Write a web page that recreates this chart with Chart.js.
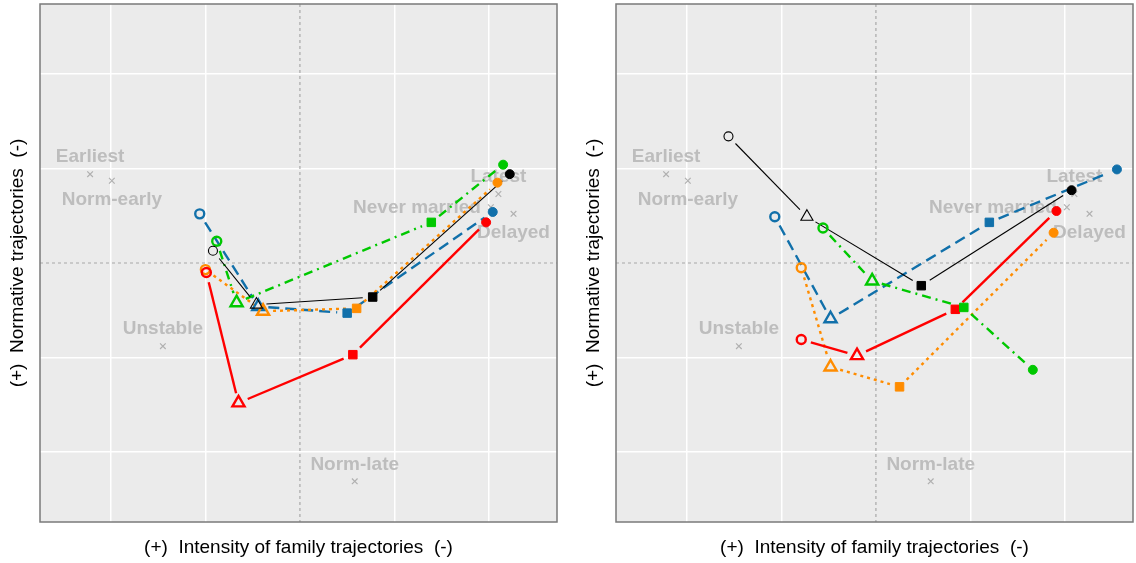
<!DOCTYPE html>
<html>
<head>
<meta charset="utf-8">
<script src="https://cdn.jsdelivr.net/npm/chart.js@4.4.1/dist/chart.umd.min.js"></script>
<style>
body { margin: 0; background: #fff; width: 1136px; height: 563px; overflow: hidden; }
canvas { position: absolute; top: 0; }
</style>
</head>
<body>
<canvas id="leftCanvas" width="576" height="563" style="left:0"></canvas>
<canvas id="rightCanvas" width="560" height="563" style="left:576px"></canvas>
<script>
// reference trajectories (grey crosses)
var refNames = ['Earliest', 'Norm-early', 'Unstable', 'Norm-late', 'Latest', 'Never married', 'Delayed'];
var refX = [-2.22, -1.99, -1.45, 0.58, 2.10, 2.02, 2.26];
var refY = [0.94, 0.87, -0.88, -2.31, 0.73, 0.59, 0.52];

// left panel series (open circle, open triangle, square, filled circle)
var leftBlackX = [-0.92, -0.46, 0.77, 2.22];
var leftBlackY = [0.13, -0.44, -0.36, 0.94];
var leftGreenX = [-0.88, -0.67, 1.39, 2.15];
var leftGreenY = [0.23, -0.42, 0.43, 1.04];
var leftRedX = [-0.99, -0.65, 0.56, 1.97];
var leftRedY = [-0.10, -1.48, -0.97, 0.43];
var leftOrangeX = [-1.00, -0.39, 0.60, 2.09];
var leftOrangeY = [-0.07, -0.51, -0.48, 0.85];
var leftBlueX = [-1.06, -0.44, 0.50, 2.04];
var leftBlueY = [0.52, -0.46, -0.53, 0.54];

// right panel series
var rightBlackX = [-1.56, -0.73, 0.48, 2.07];
var rightBlackY = [1.34, 0.49, -0.24, 0.77];
var rightGreenX = [-0.56, -0.04, 0.93, 1.66];
var rightGreenY = [0.37, -0.19, -0.47, -1.13];
var rightRedX = [-0.79, -0.20, 0.84, 1.91];
var rightRedY = [-0.81, -0.98, -0.49, 0.55];
var rightOrangeX = [-0.79, -0.48, 0.25, 1.88];
var rightOrangeY = [-0.05, -1.10, -1.31, 0.32];
var rightBlueX = [-1.07, -0.48, 1.20, 2.55];
var rightBlueY = [0.49, -0.59, 0.43, 0.99];

var xTitle = '(+)  Intensity of family trajectories  (-)';
var yTitle = '(+)  Normative trajectories  (-)';

// styles
var refPos = ['above', 'below', 'above', 'above', 'above', 'left', 'below'];
var styles = {
	black: { color: '#000000', dash: [], width: 1.1 },
	green: { color: '#00c800', dash: [9, 5, 2, 5], width: 2.4 },
	red: { color: '#ff0000', dash: [], width: 2.4 },
	orange: { color: '#ff8c00', dash: [3, 4], width: 2.4 },
	blue: { color: '#1170aa', dash: [11, 6], width: 2.4 },
};

function zip(xs, ys) {
	let pts = [];
	for (let i = 0; i < xs.length; i++) {
		pts.push({ x: xs[i], y: ys[i] });
	}
	return pts;
}

function seriesSet(key, xs, ys) {
	var s = styles[key];
	return {
		data: zip(xs, ys),
		isSeries: true,
		lineDash: s.dash,
		lineW: s.width,
		borderColor: s.color,
		pointStyle: ['circle', 'triangle', 'rect', 'circle'],
		pointRadius: [4.5, 7, 6, 4.5],
		pointBorderWidth: [s.width, s.width, 1, 1],
		pointBackgroundColor: ['rgba(0,0,0,0)', 'rgba(0,0,0,0)', s.color, s.color],
		pointBorderColor: s.color,
	};
}

var panelPlugin = {
	id: 'panel',
	beforeDraw: function (chart) {
		var a = chart.chartArea, c = chart.ctx;
		c.save();
		c.fillStyle = '#ebebeb';
		c.fillRect(a.left, a.top, a.right - a.left, a.bottom - a.top);
		c.restore();
	},
	beforeDatasetsDraw: function (chart) {
		var a = chart.chartArea, c = chart.ctx;
		var x0 = chart.scales.x.getPixelForValue(0);
		var y0 = chart.scales.y.getPixelForValue(0);
		c.save();
		// dotted zero lines
		c.strokeStyle = '#a8a8a8';
		c.lineWidth = 1.2;
		c.setLineDash([3, 3]);
		c.beginPath();
		c.moveTo(x0, a.top); c.lineTo(x0, a.bottom);
		c.moveTo(a.left, y0); c.lineTo(a.right, y0);
		c.stroke();

		// reference labels
		c.setLineDash([]);
		c.fillStyle = '#bdbdbd';
		c.font = 'bold 19px "Liberation Sans", Arial, sans-serif';
		chart.data.datasets.forEach(function (ds, i) {
			if (!ds.isRef) return;
			var pts = chart.getDatasetMeta(i).data;
			pts.forEach(function (p, j) {
				var pos = refPos[j];
				c.textBaseline = 'middle';
				if (pos == 'left') {
					c.textAlign = 'right';
					c.fillText(refNames[j], p.x - 10, p.y + 1);
				} else {
					c.textAlign = 'center';
					c.fillText(refNames[j], p.x, pos == 'above' ? p.y - 17 : p.y + 19);
				}
			});
		});

		// series lines, with gaps around the points
		var gap = 10;
		for (let i = chart.data.datasets.length - 1; i >= 0; i--) {
			var ds = chart.data.datasets[i];
			if (!ds.isSeries) continue;
			var pts = chart.getDatasetMeta(i).data;
			c.strokeStyle = ds.borderColor;
			c.lineWidth = ds.lineW;
			c.setLineDash(ds.lineDash);
			for (let j = 0; j < pts.length - 1; j++) {
				var p = pts[j], q = pts[j + 1];
				var dx = q.x - p.x, dy = q.y - p.y;
				var len = Math.sqrt(dx * dx + dy * dy);
				if (len <= 2 * gap) continue;
				var ux = dx / len, uy = dy / len;
				c.beginPath();
				c.moveTo(p.x + ux * gap, p.y + uy * gap);
				c.lineTo(q.x - ux * gap, q.y - uy * gap);
				c.stroke();
			}
		}
		c.restore();
	},
	afterDraw: function (chart) {
		var a = chart.chartArea, c = chart.ctx;
		c.save();
		c.strokeStyle = '#7a7a7a';
		c.lineWidth = 1.5;
		c.strokeRect(a.left, a.top, a.right - a.left, a.bottom - a.top);
		c.restore();
	},
};

function makeChart(id, sets, rightPad) {
	var ctx = document.getElementById(id).getContext('2d');
	sets.push({
		data: zip(refX, refY),
		isRef: true,
		pointStyle: 'crossRot',
		pointRadius: 4,
		pointBorderWidth: 1.2,
		pointBorderColor: '#b0b0b0',
		borderColor: '#b0b0b0',
	});
	var gridColor = function (c) {
		return c.tick && c.tick.value === 0 ? 'rgba(0,0,0,0)' : '#ffffff';
	};
	var titleFont = { family: '"Liberation Sans", Arial, sans-serif', size: 19 };
	return new Chart(ctx, {
		type: 'scatter',
		data: { datasets: sets },
		options: {
			responsive: false,
			animation: false,
			layout: { autoPadding: false, padding: { left: 0, top: 4, right: rightPad, bottom: 0 } },
			plugins: { legend: { display: false }, tooltip: { enabled: false } },
			scales: {
				x: {
					type: 'linear', min: -2.75, max: 2.72,
					ticks: { display: false, stepSize: 1, includeBounds: false },
					grid: { color: gridColor, lineWidth: 1.5, drawTicks: false },
					border: { display: false },
					title: { display: true, text: xTitle, color: '#000', font: titleFont, padding: { top: 14.6, bottom: 3.6 } },
				},
				y: {
					type: 'linear', min: -2.74, max: 2.74,
					ticks: { display: false, stepSize: 1, includeBounds: false },
					grid: { color: gridColor, lineWidth: 1.5, drawTicks: false },
					border: { display: false },
					title: { display: true, text: yTitle, color: '#000', font: titleFont, padding: { top: 6.6, bottom: 10.6 } },
				},
			},
		},
		plugins: [panelPlugin],
	});
}

makeChart('leftCanvas', [
	seriesSet('black', leftBlackX, leftBlackY),
	seriesSet('green', leftGreenX, leftGreenY),
	seriesSet('red', leftRedX, leftRedY),
	seriesSet('orange', leftOrangeX, leftOrangeY),
	seriesSet('blue', leftBlueX, leftBlueY),
], 19);

makeChart('rightCanvas', [
	seriesSet('black', rightBlackX, rightBlackY),
	seriesSet('green', rightGreenX, rightGreenY),
	seriesSet('red', rightRedX, rightRedY),
	seriesSet('orange', rightOrangeX, rightOrangeY),
	seriesSet('blue', rightBlueX, rightBlueY),
], 3);
</script>
</body>
</html>
